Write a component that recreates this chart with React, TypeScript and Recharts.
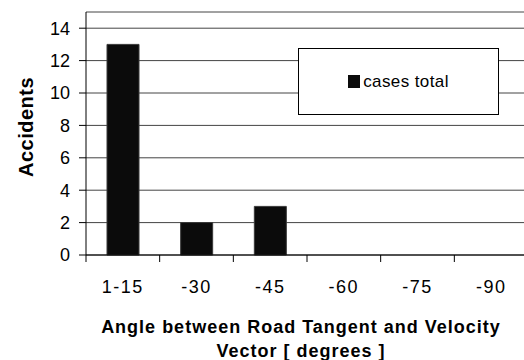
import React from 'react';
import {
  BarChart,
  Bar,
  XAxis,
  YAxis,
  CartesianGrid,
  Legend,
  Label,
} from 'recharts';

const angleBins = ['1-15', '-30', '-45', '-60', '-75', '-90'];
const casesTotal = [13, 2, 3, 0, 0, 0];
const yTicks = [0, 2, 4, 6, 8, 10, 12, 14];

const data = angleBins.map((bin, i) => ({ bin, cases: casesTotal[i] }));

const FONT = '"Liberation Sans", Arial, Helvetica, sans-serif';
const CHART_W = 528;
const CHART_H = 360;
const Y_AXIS_W = 86;
const BAND = (CHART_W - Y_AXIS_W) / angleBins.length;

// ticks sit on the category boundaries, labels in the middle
const XTick = (props: any) => {
  const { x, y, payload } = props;
  const axisY = y - 7;
  const left = x - BAND / 2;
  return (
    <g>
      <line x1={left} x2={left} y1={axisY} y2={axisY + 7} stroke="#000" strokeWidth={1} />
      <text
        x={x}
        y={axisY + 38}
        textAnchor="middle"
        fontFamily={FONT}
        fontSize={18}
        letterSpacing={1.5}
        fill="#000"
      >
        {payload.value}
      </text>
    </g>
  );
};

const XTitle = (props: any) => {
  const { viewBox } = props;
  const cx = viewBox.x + 215;
  const top = viewBox.y;
  return (
    <text textAnchor="middle" fontFamily={FONT} fontSize={18} fontWeight="bold" letterSpacing={1} fill="#000">
      <tspan x={cx} y={top + 78}>Angle between Road Tangent and Velocity</tspan>
      <tspan x={cx} y={top + 102}>Vector [ degrees ]</tspan>
    </text>
  );
};

const YTitle = () => (
  <text
    transform="translate(33, 127) rotate(-90)"
    textAnchor="middle"
    fontFamily={FONT}
    fontSize={20}
    fontWeight="bold"
    letterSpacing={0.5}
    fill="#000"
  >
    Accidents
  </text>
);

const LegendBox = () => (
  <div
    style={{
      width: 201,
      height: 67,
      boxSizing: 'border-box',
      border: '1px solid #000',
      background: '#fff',
      display: 'flex',
      alignItems: 'center',
      justifyContent: 'center',
      fontFamily: FONT,
      fontSize: 17,
      letterSpacing: 0.4,
      color: '#000',
    }}
  >
    <span style={{ display: 'inline-block', width: 12, height: 13, background: '#0b0b0b', marginRight: 3 }} />
    <span>cases total</span>
  </div>
);

export default function App() {
  return (
    <div style={{ position: 'absolute', left: 0, top: 0, width: 524, height: 360, overflow: 'hidden', background: '#fff' }}>
      <BarChart
        width={CHART_W}
        height={CHART_H}
        data={data}
        margin={{ top: 12, right: 0, left: 0, bottom: 0 }}
        barSize={32}
      >
        <CartesianGrid vertical={false} stroke="#444" strokeWidth={1} />
        <XAxis
          dataKey="bin"
          height={105}
          interval={0}
          axisLine={{ stroke: '#000' }}
          tickLine={false}
          tickSize={7}
          tickMargin={0}
          tick={<XTick />}
        >
          <Label content={<XTitle />} />
        </XAxis>
        <YAxis
          width={Y_AXIS_W}
          domain={[0, 15]}
          ticks={yTicks}
          interval={0}
          axisLine={{ stroke: '#000' }}
          tickLine={{ stroke: '#000' }}
          tickSize={7}
          tickMargin={9}
          tick={{ fontFamily: FONT, fontSize: 18, fill: '#000' }}
        >
          <Label content={<YTitle />} />
        </YAxis>
        <Legend
          layout="horizontal"
          verticalAlign="middle"
          align="center"
          content={<LegendBox />}
          wrapperStyle={{ position: 'absolute', left: 298, top: 48, width: 201, height: 67 }}
        />
        <Bar dataKey="cases" fill="#0b0b0b" stroke="#3a3a3a" strokeWidth={1} isAnimationActive={false} />
      </BarChart>
    </div>
  );
}
